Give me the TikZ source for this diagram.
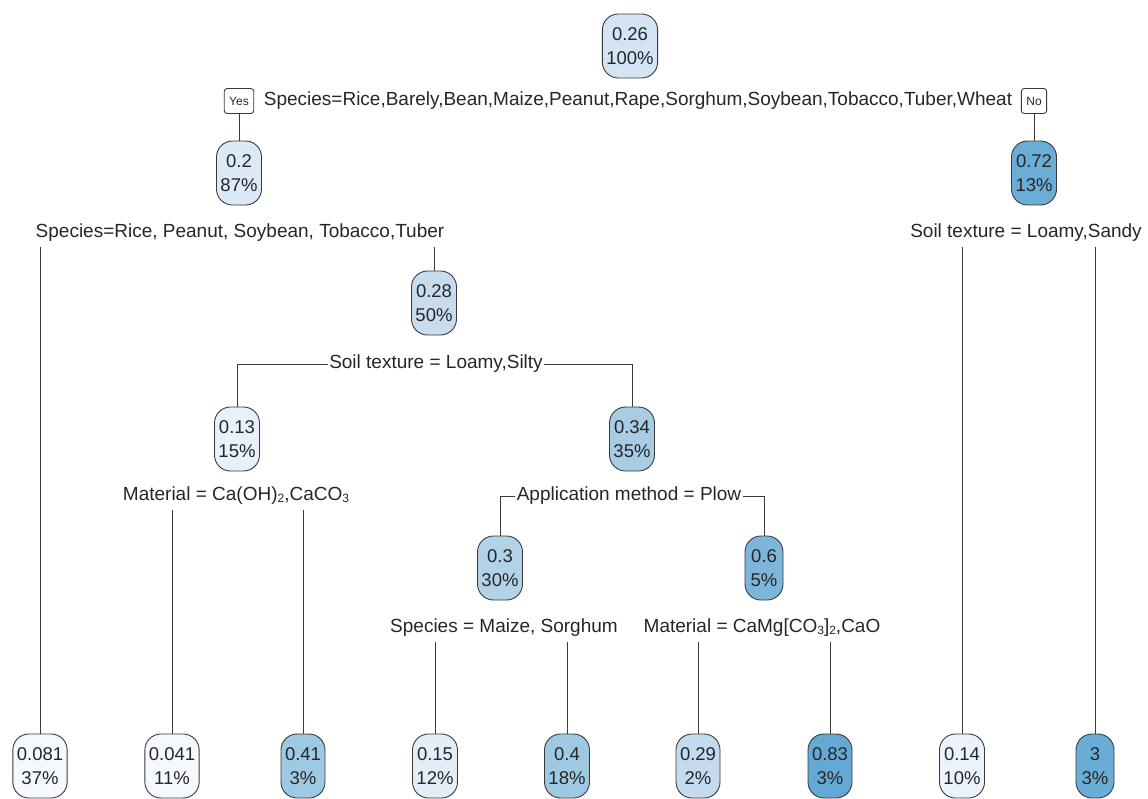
\documentclass[tikz,border=0pt]{standalone}
\usepackage{fontspec}
\setmainfont{Liberation Sans}
\definecolor{edge}{HTML}{3A3A3A}
\definecolor{b026}{HTML}{D4E4F4}
\definecolor{b02}{HTML}{DCE9F6}
\definecolor{b072}{HTML}{6AAED6}
\definecolor{b028}{HTML}{C8DCF0}
\definecolor{b013}{HTML}{E8F1FA}
\definecolor{b034}{HTML}{A8CCE4}
\definecolor{b03}{HTML}{B2D2E8}
\definecolor{b06}{HTML}{7DB6DA}
\definecolor{b0081}{HTML}{F5F9FE}
\definecolor{b0041}{HTML}{F5F9FE}
\definecolor{b041}{HTML}{9DC9E2}
\definecolor{b015}{HTML}{E2EDF8}
\definecolor{b04}{HTML}{9DC9E2}
\definecolor{b029}{HTML}{C4DAEE}
\definecolor{b083}{HTML}{64A9D4}
\definecolor{b014}{HTML}{EAF2FB}
\definecolor{b3}{HTML}{69ADD6}
\newcommand{\chemsub}[1]{\raisebox{-0.2ex}{\fontsize{12}{12}\selectfont #1}}

\begin{document}
\begin{tikzpicture}[x=1pt, y=-1pt, line width=0.9pt,
	every node/.style={text=black!85},
	box/.style={draw=edge, fill=#1, rounded corners=16pt, align=center,
		font=\fontsize{18.5}{24}\selectfont,
		minimum width=38pt, minimum height=64pt, inner xsep=4pt},
	split/.style={font=\fontsize{19}{23}\selectfont, inner xsep=1pt, inner ysep=5pt},
	tag/.style={draw=edge, rounded corners=3pt, font=\fontsize{12}{14}\selectfont,
		minimum height=25pt, inner xsep=5pt}]
	\useasboundingbox (0,0) rectangle (1148,798);
	\newcommand{\ly}{766}
	\node[box=b026] (n1) at (630,46) {0.26\\100\%};
	\node[split] (s1) at (638,101) {Species=Rice,Barely,Bean,Maize,Peanut,Rape,Sorghum,Soybean,Tobacco,Tuber,Wheat};
	\node[tag] (yes) at (239,101) {Yes};
	\node[tag] (no) at (1034,101) {No};
	\node[box=b02] (n2) at (239,173) {0.2\\87\%};
	\node[box=b072] (n3) at (1034,173) {0.72\\13\%};
	\node[split] (s2) at (240,233) {Species=Rice, Peanut, Soybean, Tobacco,Tuber};
	\node[split] (s3) at (1026,233) {Soil texture = Loamy,Sandy};
	\node[box=b028] (n4) at (434,303) {0.28\\50\%};
	\node[split] (s4) at (436,364) {Soil texture = Loamy,Silty};
	\node[box=b013] (n5) at (237,439) {0.13\\15\%};
	\node[box=b034] (n6) at (632,439) {0.34\\35\%};
	\node[split] (s5) at (236,496) {Material = Ca(OH)\chemsub{2},CaCO\chemsub{3}};
	\node[split] (s6) at (629,496) {Application method = Plow};
	\node[box=b03] (n7) at (500,568) {0.3\\30\%};
	\node[box=b06] (n8) at (764,568) {0.6\\5\%};
	\node[split] (s7) at (504,628) {Species = Maize, Sorghum};
	\node[split] (s8) at (762,628) {Material = CaMg[CO\chemsub{3}]\chemsub{2},CaO};
	\foreach \nm/\x/\val/\pct/\col in {l1/40/0.081/37/b0081, l2/172/0.041/11/b0041,
		l3/303/0.41/3/b041, l4/435/0.15/12/b015, l5/567/0.4/18/b04, l6/698/0.29/2/b029,
		l7/830/0.83/3/b083, l8/962/0.14/10/b014, l9/1095/3/3/b3}
	{
		\node[box=\col] (\nm) at (\x,\ly) {\val\\\pct\%};
	}
	\draw[edge] (yes.south) -- (n2.north);
	\draw[edge] (no.south) -- (n3.north);
	\draw[edge] (l1.north |- s2.south) -- (l1.north);
	\draw[edge] (n4.north |- s2.south) -- (n4.north);
	\draw[edge] (l8.north |- s3.south) -- (l8.north);
	\draw[edge] (l9.north |- s3.south) -- (l9.north);
	\draw[edge] (s4.west) -| (n5.north);
	\draw[edge] (s4.east) -| (n6.north);
	\draw[edge] (l2.north |- s5.south) -- (l2.north);
	\draw[edge] (l3.north |- s5.south) -- (l3.north);
	\draw[edge] (s6.west) -| (n7.north);
	\draw[edge] (s6.east) -| (n8.north);
	\draw[edge] (l4.north |- s7.south) -- (l4.north);
	\draw[edge] (l5.north |- s7.south) -- (l5.north);
	\draw[edge] (l6.north |- s8.south) -- (l6.north);
	\draw[edge] (l7.north |- s8.south) -- (l7.north);
\end{tikzpicture}
\end{document}
